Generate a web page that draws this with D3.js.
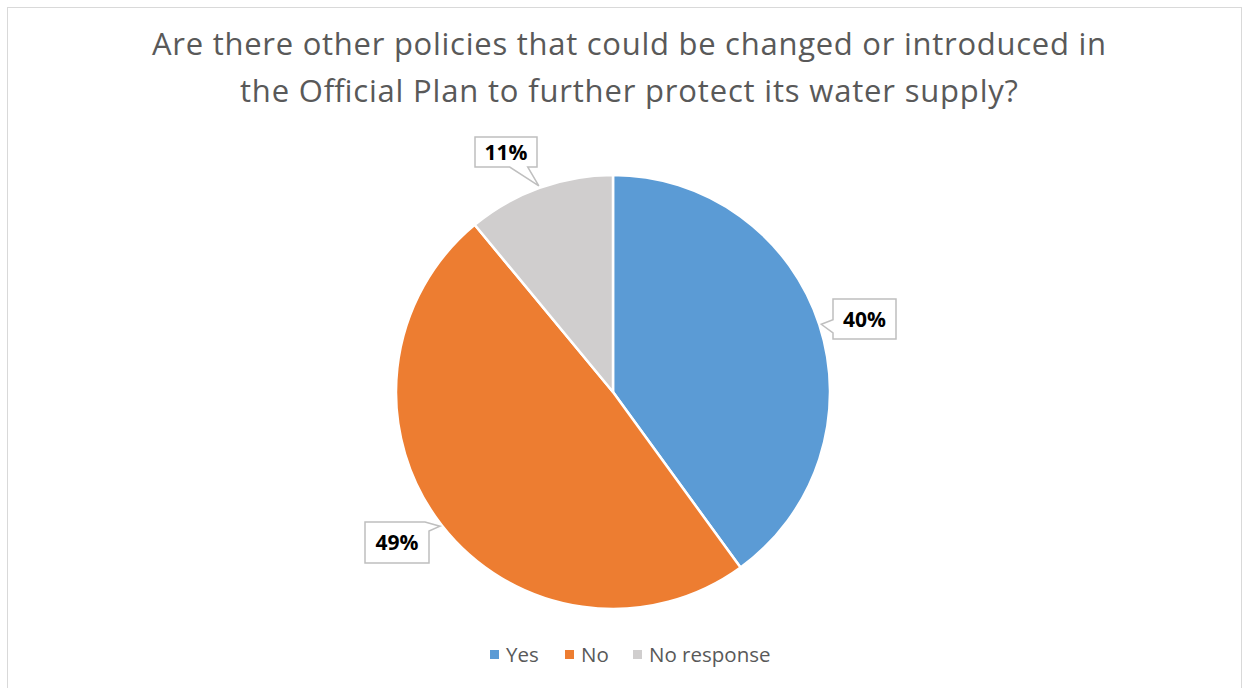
<!DOCTYPE html>
<html>
<head>
<meta charset="utf-8">
<script src="https://cdn.jsdelivr.net/npm/d3@7"></script>
<style>
  html, body { margin: 0; padding: 0; background: #fff; }
  svg { display: block; }
  text { font-family: "Open Sans", "Noto Sans", sans-serif; }
</style>
</head>
<body>
<svg id="chart" width="1244" height="688"></svg>
<script>
// Survey responses
const categories = ["Yes", "No", "No response"];
const shares = [40, 49, 11];
const colors = ["#5B9BD5", "#ED7D31", "#D0CECE"];
const titleLines = [
  "Are there other policies that could be changed or introduced in",
  "the Official Plan to further protect its water supply?"
];

const svg = d3.select("#chart");

// chart frame
svg.append("rect")
  .attr("x", 7.5).attr("y", 7.5)
  .attr("width", 1234).attr("height", 690)
  .attr("fill", "#fff").attr("stroke", "#D9D9D9").attr("stroke-width", 1);

// title, each line stretched to its set width
const titleWidths = [954, 778];
titleLines.forEach((t, i) => {
  svg.append("text")
    .attr("x", 629).attr("y", 55 + i * 47)
    .attr("text-anchor", "middle")
    .attr("fill", "#595959")
    .attr("font-size", 31)
    .attr("textLength", titleWidths[i])
    .attr("lengthAdjust", "spacing")
    .text(t);
});

// pie
const cx = 613, cy = 392, r = 217;
const data = categories.map((c, i) => ({ cat: c, value: shares[i], color: colors[i] }));
const pie = d3.pie().value(d => d.value).sort(null);
const arcs = pie(data);
const arc = d3.arc().innerRadius(0).outerRadius(r);

const g = svg.append("g").attr("transform", `translate(${cx},${cy})`);
g.selectAll("path.slice")
  .data(arcs)
  .join("path")
  .attr("class", "slice")
  .attr("d", arc)
  .attr("fill", d => d.data.color)
  .attr("stroke", "#fff")
  .attr("stroke-width", 2.5)
  .attr("stroke-linejoin", "round");

// callout boxes, each pointing at its slice's mid-angle on the rim
const callouts = [
  { side: "left",  bx: 833, by: 299, bw: 63, bh: 40 },   // Yes
  { side: "right", bx: 365, by: 522, bw: 64, bh: 41 },   // No
  { side: "bottom", bx: 475, by: 137, bw: 62, bh: 30 }   // No response
];

arcs.forEach((a, i) => {
  const c = callouts[i];
  const ang = (a.startAngle + a.endAngle) / 2;
  const tip = [cx + Math.sin(ang) * (r + 2), cy - Math.cos(ang) * (r + 2)];
  const x0 = c.bx, y0 = c.by, x1 = c.bx + c.bw, y1 = c.by + c.bh;
  let pts;
  if (c.side === "left") {
    const ya = y0 + c.bh * 0.52, yb = y0 + c.bh * 0.85;
    pts = [[x0, y0], [x1, y0], [x1, y1], [x0, y1], [x0, yb], tip, [x0, ya]];
  } else if (c.side === "right") {
    pts = [[x0, y0], [x1 - 4, y0], tip, [x1, y0 + 9], [x1, y1], [x0, y1]];
  } else {
    const xa = x0 + c.bw * 0.56, xb = x0 + c.bw * 0.85;
    pts = [[x0, y0], [x1, y0], [x1, y1], [xb, y1], tip, [xa, y1], [x0, y1]];
  }
  svg.append("path")
    .attr("d", d3.line()(pts) + "Z")
    .attr("fill", "#fff")
    .attr("stroke", "#BFBFBF")
    .attr("stroke-width", 1.5);
  svg.append("text")
    .attr("x", c.bx + c.bw / 2)
    .attr("y", c.by + c.bh / 2 + 7.5)
    .attr("text-anchor", "middle")
    .attr("font-size", 21)
    .attr("font-weight", "bold")
    .attr("fill", "#000")
    .text(a.data.value + "%");
});

// legend
const legendX = [490, 565, 633];
const lg = svg.append("g");
data.forEach((d, i) => {
  lg.append("rect")
    .attr("x", legendX[i]).attr("y", 650)
    .attr("width", 9).attr("height", 9)
    .attr("fill", d.color);
  lg.append("text")
    .attr("x", legendX[i] + 16).attr("y", 662)
    .attr("font-size", 20.5)
    .attr("fill", "#595959")
    .text(d.cat);
});
</script>
</body>
</html>
